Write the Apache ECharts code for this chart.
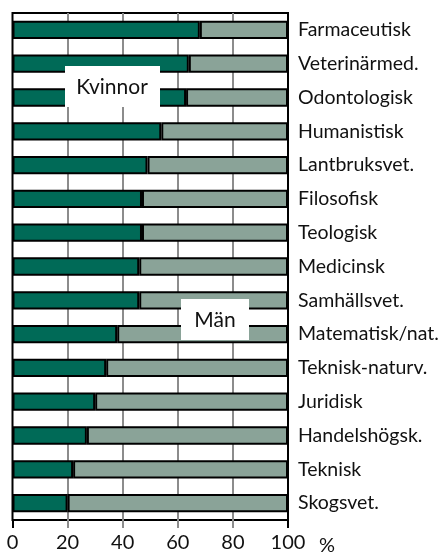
<!DOCTYPE html>
<html>
<head>
<meta charset="utf-8">
<script src="https://cdn.jsdelivr.net/npm/echarts@6/dist/echarts.min.js"></script>
<style>
  html, body { margin: 0; padding: 0; background: #fff; }
  #chart { width: 442px; height: 556px; }
</style>
</head>
<body>
<div id="chart"></div>
<script>
// fakulteter, uppifrån och ned
var faculties = ['Farmaceutisk', 'Veterinärmed.', 'Odontologisk', 'Humanistisk', 'Lantbruksvet.',
    'Filosofisk', 'Teologisk', 'Medicinsk', 'Samhällsvet.', 'Matematisk/nat.',
    'Teknisk-naturv.', 'Juridisk', 'Handelshögsk.', 'Teknisk', 'Skogsvet.'];
// andel kvinnor resp. män (%)
var kvinnor = [68, 64, 63, 54, 49, 47, 47, 46, 46, 38, 34, 30, 27, 22, 20];
var man = [32, 36, 37, 46, 51, 53, 53, 54, 54, 62, 66, 70, 73, 78, 80];
var xTicks = [0, 20, 40, 60, 80, 100];

window.onload = function(){
    var font = 'Lato';
    var chart = echarts.init(document.getElementById('chart'));
    var option = {
        animation: false,
        textStyle: { fontFamily: font },
        grid: {
            left: 12.5, right: 154, top: 13, bottom: 36,
            show: true, borderColor: '#000', borderWidth: 2, backgroundColor: '#fff'
        },
        xAxis: [
          {
            type: 'value', min: xTicks[0], max: xTicks[xTicks.length - 1], interval: 20,
            axisLine: { show: false },
            axisTick: { show: true, length: 8, lineStyle: { color: '#8c8c8c', width: 2 } },
            axisLabel: { color: '#111', fontSize: 20, margin: 13, fontFamily: font },
            splitLine: { show: true, showMinLine: false, showMaxLine: false,
                lineStyle: { color: '#8c8c8c', width: 2 } }
          },
          {
            // svarta ändmarkeringar vid 0 och 100
            type: 'value', min: 0, max: 100, interval: 100, position: 'bottom',
            axisLine: { show: false },
            axisTick: { show: true, length: 8, lineStyle: { color: '#000', width: 2 } },
            axisLabel: { show: false },
            splitLine: { show: false }
          }
        ],
        yAxis: {
            type: 'category', data: faculties, inverse: true, position: 'right',
            axisLine: { show: false }, axisTick: { show: false },
            axisLabel: { color: '#111', fontSize: 19.5, margin: 10, align: 'left', fontFamily: font },
            splitLine: { show: false }
        },
        series: [
          {
            name: 'Kvinnor', type: 'bar', stack: 'tot', data: kvinnor, barWidth: '54%',
            itemStyle: { color: '#006a57', borderColor: '#000', borderWidth: 2 }
          },
          {
            name: 'Män', type: 'bar', stack: 'tot', data: man, barWidth: '54%',
            itemStyle: { color: '#8aa398', borderColor: '#000', borderWidth: 2 }
          }
        ],
        graphic: [
          { type: 'rect', left: 65, top: 66, shape: { width: 95, height: 41 }, style: { fill: '#fff' }, z: 100 },
          { type: 'text', x: 112, y: 87, z: 101,
            style: { text: 'Kvinnor', font: '21px Lato', fill: '#111', align: 'center', verticalAlign: 'middle' } },
          { type: 'rect', left: 181, top: 299, shape: { width: 68, height: 41 }, style: { fill: '#fff' }, z: 100 },
          { type: 'text', x: 215, y: 320, z: 101,
            style: { text: 'Män', font: '21px Lato', fill: '#111', align: 'center', verticalAlign: 'middle' } },
          { type: 'text', x: 327, y: 546, z: 101,
            style: { text: '%', font: '20px Lato', fill: '#111', align: 'center', verticalAlign: 'middle' } }
        ]
    };
    chart.setOption(option);
};
</script>
</body>
</html>
